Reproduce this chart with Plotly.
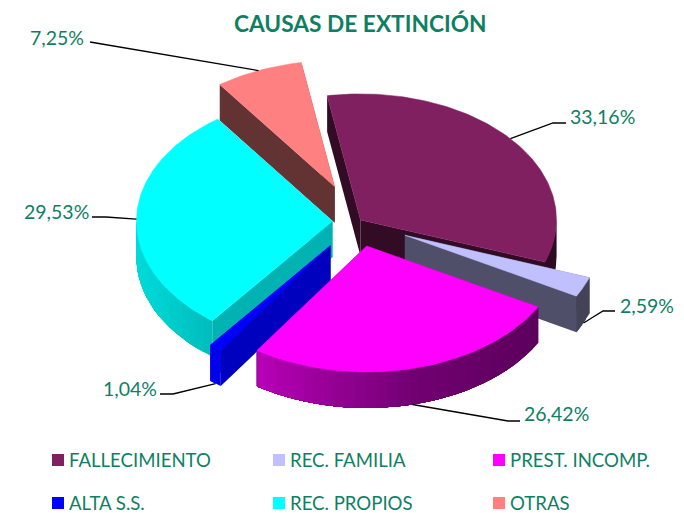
import numpy as np
import plotly.graph_objects as go

# ---- data ----
categories = ["FALLECIMIENTO", "REC. FAMILIA", "PREST. INCOMP.", "ALTA S.S.", "REC. PROPIOS", "OTRAS"]
values = [33.16, 2.59, 26.42, 1.04, 29.53, 7.25]

# ---- style / layout ----
colors = [(128, 32, 96), (192, 192, 255), (255, 0, 255), (0, 0, 255), (0, 255, 255), (255, 128, 128)]
explode = [0.02, 0.265, 0.20, 0.235, 0.128, 0.30]
side_shade = [0.38, 0.41, 0.5, 0.75, 0.70, 0.39]
draw_order = [5, 0, 1, 4, 3, 2]
START = -9.8
CX, CY, RX, RY, DEPTH = 357.5, 221.5, 196, 126, 36
TEAL = "#0F7F63"
FONT = "Lato"
# label text centre, elbow point and end of the horizontal stub
label_pos = [(602, 116), (647, 305), (556, 413), (130, 388), (56, 211), (57, 37)]
elbow = [(553, 123), (603, 311), (508, 421), (173, 394), (106, 217), (102, 44)]
stub = [(566, 123), (615, 311), (520, 421), (160, 394), (92, 217), (90, 42)]
anchor_on_bottom = [False, True, True, True, False, False]
legend_x = [52, 273, 493]
legend_y = [460, 503]
LEGEND_TEXT_GAP = 17

fig = go.Figure()


def rgb(c, f=1.0):
    return "rgb(%d,%d,%d)" % tuple(round(v * f) for v in c)


def poly(xs, ys, color, lw=0.0):
    fig.add_trace(go.Scatter(x=list(xs), y=list(ys), mode="lines", fill="toself", fillcolor=color,
                             line=dict(color=color, width=lw), hoverinfo="skip", showlegend=False))


def wall_shade(x):
    return np.interp(x, [135, 212, 257, 410, 538, 600], [0.86, 0.74, 0.72, 0.45, 0.36, 0.34])


spans = np.array(values) / sum(values) * 360
starts = START + np.concatenate([[0], np.cumsum(spans)[:-1]])
ends = starts + spans
mids = (starts + ends) / 2
apex = [(CX + e * RX * np.sin(np.radians(m)), CY - e * RY * np.cos(np.radians(m))) for e, m in zip(explode, mids)]


def rim(i, deg):
    t = np.radians(deg)
    return apex[i][0] + RX * np.sin(t), apex[i][1] - RY * np.cos(t)


for i in draw_order:
    ax, ay = apex[i]
    c = colors[i]
    # radial side walls
    for edge in (starts[i], ends[i]):
        ex, ey = rim(i, edge)
        poly([ax, ex, ex, ax, ax], [ay, ey, ey + DEPTH, ay + DEPTH, ay], rgb(c, side_shade[i]))
    # outer curved wall (front half only): overlapping bands, each painted up to the far end
    lo, hi = max(starts[i], 90), min(ends[i], 270)
    if hi > lo:
        n = max(2, int((hi - lo) / 3))
        grid = np.linspace(lo, hi, n + 1)
        mid_x = [rim(i, (a + b) / 2)[0] for a, b in zip(grid[:-1], grid[1:])]
        for k in range(n):
            arc = np.linspace(grid[k], hi, max(2, (n - k) + 1))
            xs, ys = zip(*[rim(i, a) for a in arc])
            f = 0.92 if i == 3 else wall_shade(mid_x[k])
            poly([*xs, *xs[::-1], xs[0]], [*ys, *[y + DEPTH for y in ys[::-1]], ys[0]], rgb(c, f))
    # top face
    arc = np.linspace(starts[i], ends[i], max(6, int(spans[i])))
    rx_, ry_ = zip(*[rim(i, a) for a in arc])
    poly([ax, *rx_, ax], [ay, *ry_, ay], rgb(c), lw=0.5)

# leader lines and percentage labels
for i, v in enumerate(values):
    px, py = rim(i, mids[i])
    if anchor_on_bottom[i]:
        py += DEPTH
    fig.add_trace(go.Scatter(x=[px, elbow[i][0], stub[i][0]], y=[py, elbow[i][1], stub[i][1]], mode="lines",
                             line=dict(color="black", width=1.3), hoverinfo="skip", showlegend=False))
    fig.add_annotation(x=label_pos[i][0], y=label_pos[i][1], text=f"{v:.2f}".replace(".", ",") + "%",
                       showarrow=False, xanchor="center", yanchor="middle",
                       font=dict(family=FONT, size=19.5, color=TEAL))

# legend
for i, name in enumerate(categories):
    lx = legend_x[i % 3] + 6
    ly = legend_y[i // 3]
    fig.add_trace(go.Scatter(x=[lx], y=[ly], mode="markers",
                             marker=dict(symbol="square", size=12, color=rgb(colors[i])),
                             hoverinfo="skip", showlegend=False, cliponaxis=False))
    fig.add_annotation(x=lx - 6 + LEGEND_TEXT_GAP, y=ly, text=name, showarrow=False, xanchor="left", yanchor="middle",
                       xshift=-2, font=dict(family=FONT, size=18.6, color=TEAL))

fig.add_annotation(x=360, y=23, text="<b>CAUSAS DE EXTINCIÓN</b>", showarrow=False, xanchor="center", yanchor="middle",
                   font=dict(family=FONT, size=22.7, color=TEAL))

fig.update_layout(width=684, height=513, margin=dict(l=0, r=0, t=0, b=0), paper_bgcolor="white",
                  plot_bgcolor="white", showlegend=False,
                  xaxis=dict(range=[0, 684], visible=False, fixedrange=True),
                  yaxis=dict(range=[513, 0], visible=False, fixedrange=True))
fig.write_html("out.html", config=dict(displayModeBar=False),
               post_script="document.body.style.margin='0';document.body.style.overflow='hidden';")
